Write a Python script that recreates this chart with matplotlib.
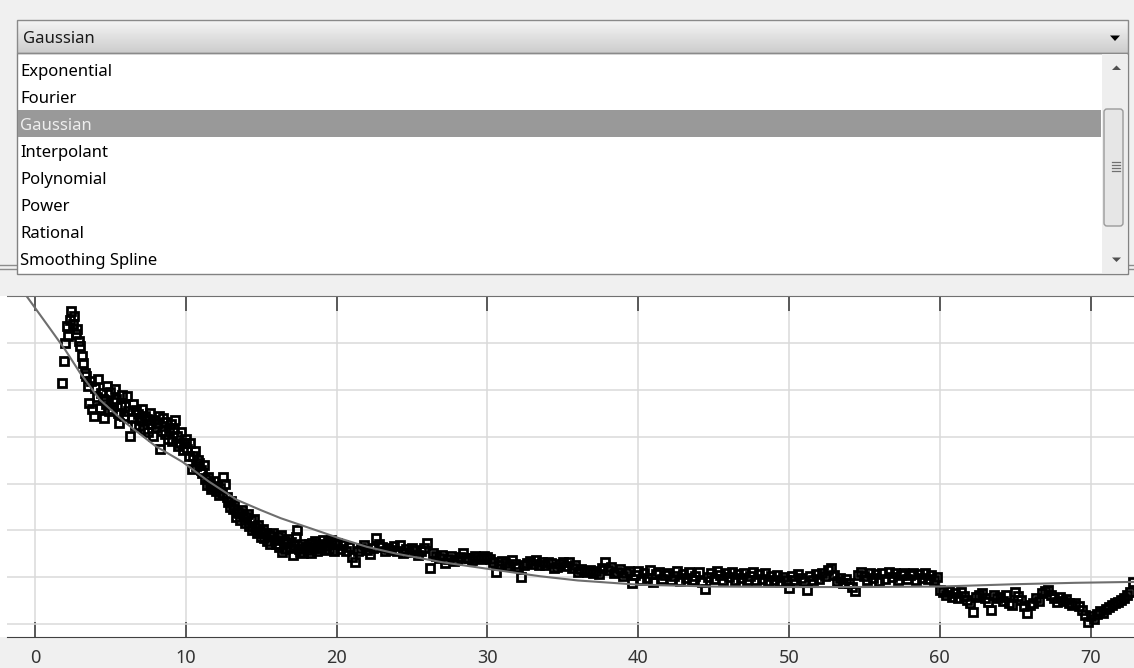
import matplotlib.pyplot as plt
import numpy as np
from matplotlib.patches import Rectangle, FancyBboxPatch, Polygon

W, H = 1134, 668

fit_types = ['Exponential', 'Fourier', 'Gaussian', 'Interpolant',
             'Polynomial', 'Power', 'Rational', 'Smoothing Spline']
selected = 'Gaussian'

x_ticks = [0, 10, 20, 30, 40, 50, 60, 70]
y_grid = [0, 1, 2, 3, 4, 5, 6]

# samples every 0.1 from x = 1.8 up to 19.9
x0_dense, dx_dense = 1.8, 0.1
y_dense = [
    5.15, 5.62,
    6.00, 6.37, 6.15, 6.50, 6.69, 6.42, 6.58, 6.20, 6.30, 6.05,
    5.94, 5.73, 5.58, 5.36, 5.30, 5.09, 4.72, 5.20, 4.59, 4.44,
    5.05, 4.85, 5.23, 4.62, 4.93, 4.80, 4.40, 4.70, 5.09, 4.55,
    4.95, 4.59, 4.75, 5.02, 4.80, 4.50, 4.29, 4.65, 4.90, 4.45,
    4.66, 4.87, 4.55, 4.02, 4.40, 4.70, 4.25, 4.58, 4.49, 4.23,
    4.35, 4.60, 4.17, 4.45, 4.38, 4.10, 4.50, 4.28, 4.02, 4.36,
    4.20, 4.29, 4.45, 3.74, 4.12, 4.40, 4.05, 4.32, 3.95, 4.18,
    4.28, 3.90, 4.17, 4.35, 4.02, 3.80, 3.87, 4.10, 3.72, 3.87,
    3.95, 3.74, 3.60, 3.87, 3.31, 3.59, 3.70, 3.38, 3.50, 3.44,
    3.30, 3.22, 3.40, 3.10, 2.97, 3.15, 3.02, 2.88, 2.93, 3.05,
    2.85, 2.95, 2.75, 2.90, 2.80, 3.14, 3.00, 2.71, 2.60, 2.50,
    2.62, 2.45, 2.55, 2.29, 2.40, 2.37, 2.22, 2.44, 2.30, 2.15,
    2.29, 2.35, 2.10, 2.22, 2.00, 2.25, 2.05, 1.94, 2.12, 1.98,
    1.86, 2.02, 1.84, 1.95, 1.78, 1.90, 1.72, 1.88, 1.94, 1.80,
    1.70, 1.85, 1.65, 1.90, 1.54, 1.78, 1.60, 1.73, 1.82, 1.62,
    1.75, 1.47, 1.68, 1.85, 2.00, 1.60, 1.54, 1.72, 1.52, 1.65,
    1.65, 1.58, 1.70, 1.52, 1.73, 1.62, 1.78, 1.56, 1.68, 1.62,
    1.70, 1.79, 1.58, 1.66, 1.75, 1.60, 1.79, 1.70, 1.55, 1.72,
]

# samples every 0.2 from x = 20.0 up to 72.8
x0_sparse, dx_sparse = 20.0, 0.2
y_sparse = [
    1.73, 1.60, 1.68, 1.55, 1.65,
    1.43, 1.32, 1.55, 1.62, 1.69,
    1.58, 1.50, 1.62, 1.84, 1.70,
    1.65, 1.55, 1.62, 1.58, 1.66,
    1.55, 1.69, 1.52, 1.60, 1.54,
    1.62, 1.58, 1.47, 1.55, 1.63,
    1.73, 1.20, 1.52, 1.45, 1.41,
    1.48, 1.30, 1.38, 1.45, 1.35,
    1.37, 1.44, 1.52, 1.40, 1.41,
    1.36, 1.45, 1.43, 1.38, 1.46,
    1.43, 1.38, 1.32, 1.11, 1.25,
    1.34, 1.30, 1.24, 1.36, 1.28,
    1.22, 1.00, 1.26, 1.30, 1.35,
    1.28, 1.37, 1.25, 1.32, 1.27,
    1.33, 1.30, 1.20, 1.22, 1.28,
    1.32, 1.24, 1.32, 1.20, 1.26,
    1.11, 1.18, 1.14, 1.11, 1.16,
    1.09, 1.13, 1.06, 1.20, 1.32,
    1.15, 1.22, 1.10, 1.11, 1.18,
    1.02, 1.09, 1.13, 0.88, 1.05,
    1.14, 0.93, 1.08, 0.98, 1.15,
    0.90, 1.06, 1.12, 0.96, 1.04,
    1.10, 0.94, 1.02, 1.13, 0.92,
    1.07, 0.98, 1.11, 0.95, 1.03,
    1.12, 0.90, 0.75, 1.00, 1.09,
    0.96, 1.13, 1.04, 0.93, 1.08,
    1.01, 1.11, 0.93, 1.06, 0.98,
    1.10, 0.95, 1.03, 1.12, 0.94,
    1.06, 0.97, 1.09, 0.92, 1.03,
    0.94, 1.05, 0.90, 1.01, 0.93,
    0.77, 1.03, 0.95, 1.07, 0.98,
    0.92, 0.73, 1.02, 0.94, 1.06,
    0.97, 1.10, 1.02, 1.15, 1.20,
    1.04, 0.92, 0.99, 0.88, 0.96,
    0.88, 0.80, 0.70, 1.05, 1.11,
    1.03, 0.94, 1.09, 0.98, 1.06,
    0.91, 1.08, 0.97, 1.11, 1.00,
    1.08, 0.95, 1.05, 1.10, 0.97,
    1.04, 1.10, 0.94, 1.06, 0.99,
    1.08, 0.96, 1.05, 0.93, 1.00,
    0.72, 0.68, 0.62, 0.70, 0.58,
    0.66, 0.55, 0.68, 0.60, 0.52,
    0.45, 0.26, 0.58, 0.62, 0.66,
    0.55, 0.48, 0.30, 0.62, 0.55,
    0.58, 0.50, 0.62, 0.45, 0.40,
    0.68, 0.60, 0.51, 0.38, 0.24,
    0.40, 0.45, 0.55, 0.50, 0.66,
    0.70, 0.73, 0.62, 0.55, 0.47,
    0.58, 0.50, 0.53, 0.45, 0.40,
    0.45, 0.38, 0.30, 0.20, 0.04,
    0.18, 0.10, 0.22, 0.28, 0.24,
    0.32, 0.36, 0.40, 0.45, 0.48,
    0.51, 0.55, 0.62, 0.68, 0.90,
]

# gaussian fit curve
fit_x = [-2.0, -0.5, 1.0, 2.0, 3.0, 4.3, 6.0, 8.0, 9.8, 11.5, 13.4, 15.0,
         16.3, 18.4, 20.2, 22.0, 24.0, 27.0, 30.0, 33.5, 36.0, 40.0, 45.0,
         50.0, 55.0, 60.0, 65.0, 69.0, 73.0]
fit_y = [7.67, 6.98, 6.31, 5.86, 5.36, 4.79, 4.30, 3.80, 3.46, 3.05, 2.65, 2.43,
         2.26, 2.03, 1.83, 1.65, 1.50, 1.32, 1.18, 1.02, 0.93, 0.84, 0.80,
         0.79, 0.79, 0.80, 0.85, 0.88, 0.90]

x_dense = x0_dense + dx_dense * np.arange(len(y_dense))
x_sparse = x0_sparse + dx_sparse * np.arange(len(y_sparse))
x_data = np.concatenate([x_dense, x_sparse])
y_data = np.concatenate([y_dense, y_sparse])

plt.rcParams['font.family'] = ['Noto Sans', 'DejaVu Sans']

fig = plt.figure(figsize=(W / 100, H / 100), dpi=100, facecolor='#f0f0f0')

# plot panel
ax = fig.add_axes([7 / W, (H - 637) / H, (W - 7) / W, (637 - 296) / H])
ax.set_facecolor('white')
ax.set_xlim(-1.857, 72.88)
ax.set_ylim(-0.278, 7.009)
ax.set_xticks(x_ticks)
ax.set_yticks(y_grid)
ax.grid(True, color='#dadada', lw=1.1)
ax.set_axisbelow(True)
ax.tick_params(axis='x', top=True, bottom=True, direction='in', length=11,
               width=1.1, color='#333333', labelsize=13, labelcolor='#333333',
               pad=8.5)
ax.tick_params(axis='y', left=False, labelleft=False)
for side in ['left', 'right']:
    ax.spines[side].set_visible(False)
ax.spines['top'].set_color('#707070')
ax.spines['bottom'].set_color('#404040')

ax.plot(x_data, y_data, ls='none', marker='s', ms=5.3, mfc='none',
        mec='black', mew=2.0, zorder=3)
ax.plot(fit_x, fit_y, color='#6e6e6e', lw=1.5, zorder=4)

# dropdown overlay, drawn in pixel units
ui = fig.add_axes([0, 0, 1, 1], zorder=5)
ui.set_xlim(0, W)
ui.set_ylim(H, 0)
ui.axis('off')
ui.patch.set_alpha(0)

ui.add_patch(Rectangle((0, 296), 7, 341, fc='white', ec='none'))

# combo box header
grad = np.linspace(0.96, 0.80, 40).reshape(-1, 1)
ui.imshow(grad, cmap='gray', vmin=0, vmax=1, aspect='auto',
          extent=(17, 1128, 53, 20), origin='upper', zorder=1)
ui.add_patch(Rectangle((17, 20), 1111, 33, fc='none', ec='#8a8a8a', lw=1, zorder=2))
ui.text(23, 43, selected, fontsize=12, color='#1a1a1a', va='baseline', zorder=3)
ui.add_patch(Polygon([(1110, 35.5), (1120, 35.5), (1115, 41)], closed=True,
                     fc='black', ec='none', zorder=3))

# list box
ui.add_patch(Rectangle((17, 53), 1111, 221, fc='white', ec='#828282', lw=1, zorder=1))
for i, name in enumerate(fit_types):
    base = 76 + 27 * i
    if name == selected:
        ui.add_patch(Rectangle((18, base - 20), 1083, 27, fc='#999999', ec='none', zorder=2))
        col = '#eeeeee'
    else:
        col = 'black'
    ui.text(20, base, name, fontsize=12, color=col, va='baseline', zorder=3)

# scrollbar
ui.add_patch(Rectangle((1102, 54), 25, 219, fc='#eeeeee', ec='none', zorder=2))
ui.add_patch(FancyBboxPatch((1104, 109), 19, 117, boxstyle='round,pad=0,rounding_size=3',
                            fc='#e6e6e6', ec='#9a9a9a', lw=1, zorder=3))
for gy in [162, 165, 168, 171]:
    ui.plot([1112, 1120], [gy, gy], color='#707070', lw=0.9, zorder=4)
ui.add_patch(Polygon([(1112, 70), (1121, 70), (1116.5, 65.5)], closed=True,
                     fc='#505050', ec='none', zorder=4))
ui.add_patch(Polygon([(1112, 257.5), (1121, 257.5), (1116.5, 262)], closed=True,
                     fc='#505050', ec='none', zorder=4))

# edges of the panel behind the list
for ly in [265, 269]:
    ui.plot([0, 17], [ly, ly], color='#8c8c8c', lw=1, zorder=0)
    ui.plot([1128, 1134], [ly, ly], color='#8c8c8c', lw=1, zorder=0)

fig.savefig('out.png', dpi=100, facecolor=fig.get_facecolor())
